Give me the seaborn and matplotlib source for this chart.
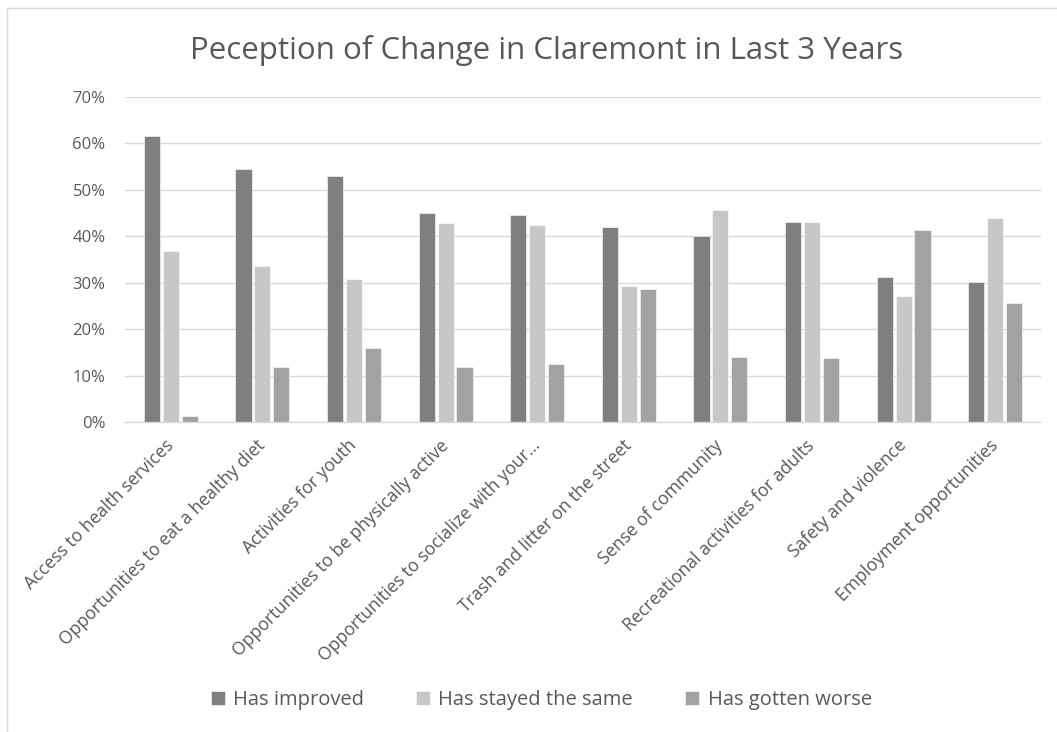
import seaborn as sns
import matplotlib.pyplot as plt
import pandas as pd
from matplotlib.patches import Rectangle
from matplotlib.ticker import PercentFormatter

categories = [
    "Access to health services",
    "Opportunities to eat a healthy diet",
    "Activities for youth",
    "Opportunities to be physically active",
    "Opportunities to socialize with your\u2026",
    "Trash and litter on the street",
    "Sense of community",
    "Recreational activities for adults",
    "Safety and violence",
    "Employment opportunities",
]
series = ["Has improved", "Has stayed the same", "Has gotten worse"]
improved = [61.6, 54.4, 52.9, 45.0, 44.6, 41.9, 40.1, 43.0, 31.2, 30.2]
stayed_same = [36.8, 33.5, 30.9, 42.9, 42.5, 29.2, 45.7, 43.0, 27.1, 43.9]
gotten_worse = [1.3, 11.9, 15.9, 11.9, 12.5, 28.6, 14.0, 13.7, 41.4, 25.7]
colors = ["#7f7f7f", "#c6c7c6", "#a2a2a2"]

# long table for seaborn
rows = []
for name, vals in zip(series, [improved, stayed_same, gotten_worse]):
    for cat, v in zip(categories, vals):
        rows.append({"category": cat, "response": name, "pct": v})
df = pd.DataFrame(rows)

sns.set_style("white")
plt.rcParams['font.family'] = ['Open Sans', 'DejaVu Sans']
text_color = "#595959"

fig = plt.figure(figsize=(10.57, 7.32), dpi=100)
ax = fig.add_axes([125 / 1057, 1 - 422 / 732, (1041 - 125) / 1057, (422 - 97) / 732])

sns.barplot(data=df, x="category", y="pct", hue="response", hue_order=series,
            palette=colors, width=0.62, gap=0.15, ax=ax, legend=True,
            edgecolor="white", linewidth=0.4, saturation=1)

ax.set_ylim(0, 70)
ax.set_xlim(-0.5, len(categories) - 0.5)
ax.set_yticks(range(0, 71, 10))
ax.yaxis.set_major_formatter(PercentFormatter(decimals=0))
ax.grid(axis="y", color="#d9d9d9", linewidth=1)
ax.set_axisbelow(True)
for side in ["top", "right", "left"]:
    ax.spines[side].set_visible(False)
ax.spines["bottom"].set_color("#d9d9d9")
ax.spines["bottom"].set_linewidth(1)
ax.tick_params(axis="y", length=0, labelsize=12, colors=text_color, pad=14)
ax.tick_params(axis="x", length=0, labelsize=12.7, colors=text_color, pad=15)
ax.set_xlabel("")
ax.set_ylabel("")
ax.set_xticks(range(len(categories)))
ax.set_xticklabels(categories, rotation=45, ha="right", va="center",
                   rotation_mode="anchor")
for lbl in ax.get_xticklabels():
    lbl.set_color(text_color)

fig.text(0.517, 1 - 50 / 732, "Peception of Change in Claremont in Last 3 Years",
         ha="center", va="center", fontsize=22.5, color=text_color)

handles, labels = ax.get_legend_handles_labels()
ax.get_legend().remove()
fig.legend(handles, labels, loc="center", bbox_to_anchor=(0.512, 1 - 700 / 732),
           ncol=3, frameon=False, fontsize=14.5, labelcolor=text_color,
           handlelength=0.7, handleheight=0.7, handletextpad=0.4, columnspacing=2.6)

# chart frame
fig.patches.append(Rectangle((7 / 1057, -0.1), 1.2, 1 - 8 / 732 + 0.1,
                             transform=fig.transFigure, fill=False,
                             edgecolor="#d9d9d9", linewidth=1))

fig.savefig("out.png", dpi=100)
